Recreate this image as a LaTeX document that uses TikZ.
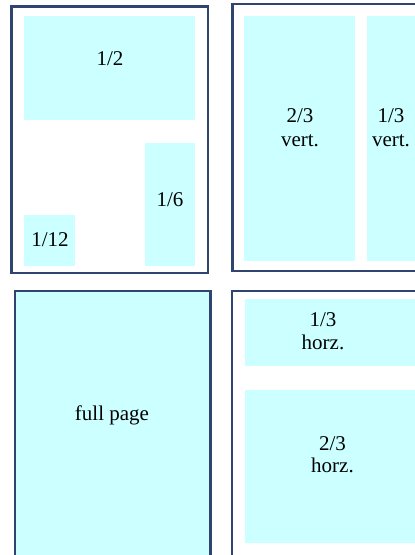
\documentclass[tikz,border=0pt]{standalone}
\usepackage{fontspec}
\setmainfont{Liberation Serif}
\definecolor{pageline}{RGB}{47,68,110}
\definecolor{adfill}{RGB}{204,255,255}
\tikzset{
  pageframe/.style={draw=pageline, line width=2.5pt},
  adbox/.style={fill=adfill},
  adlabel/.style={font=\fontsize{21}{24}\selectfont, inner sep=0pt, align=center},
}
\begin{document}
\begin{tikzpicture}[x=1pt,y=-1pt]
\useasboundingbox (0,0) rectangle (415,555);
\clip (0,0) rectangle (415,555);
% page 1
\fill[adbox] (24,16) rectangle (195,120);
\fill[adbox] (145,143) rectangle (195,266);
\fill[adbox] (24,215) rectangle (75,266);
\draw[pageframe] (11.3,6.3) rectangle (208,273);
\node[adlabel, anchor=base] (half) at (110,65.7) {1/2};
\node[adlabel, anchor=base] (sixth) at (170,206.7) {1/6};
\node[adlabel, anchor=base] (twelfth) at (50,246.7) {1/12};
% page 2
\fill[adbox] (244,16) rectangle (355,261);
\fill[adbox] (367,16) rectangle (480,261);
\draw[pageframe] (232.5,4) rectangle (440,271);
\node[adlabel, anchor=base] (twothirdsv) at (300,122.7) {2/3};
\node[adlabel, anchor=base] (twothirdsvb) at (300,146) {vert.};
\node[adlabel, anchor=base] (thirdv) at (391,122.7) {1/3};
\node[adlabel, anchor=base] (thirdvb) at (391,146) {vert.};
% page 3
\fill[adbox] (15,291) rectangle (210.5,580);
\draw[pageframe] (15,291) rectangle (210.5,580);
\node[adlabel, anchor=base] (full) at (112,420) {full page};
% page 4
\fill[adbox] (245,299) rectangle (480,366);
\fill[adbox] (245,390) rectangle (480,543);
\draw[pageframe] (232,291) rectangle (440,580);
\node[adlabel, anchor=base] (thirdh) at (323,326.7) {1/3};
\node[adlabel, anchor=base] (thirdhb) at (323,349.3) {horz.};
\node[adlabel, anchor=base] (twothirdsh) at (332.5,450) {2/3};
\node[adlabel, anchor=base] (twothirdshb) at (332.5,472.7) {horz.};
\end{tikzpicture}
\end{document}
